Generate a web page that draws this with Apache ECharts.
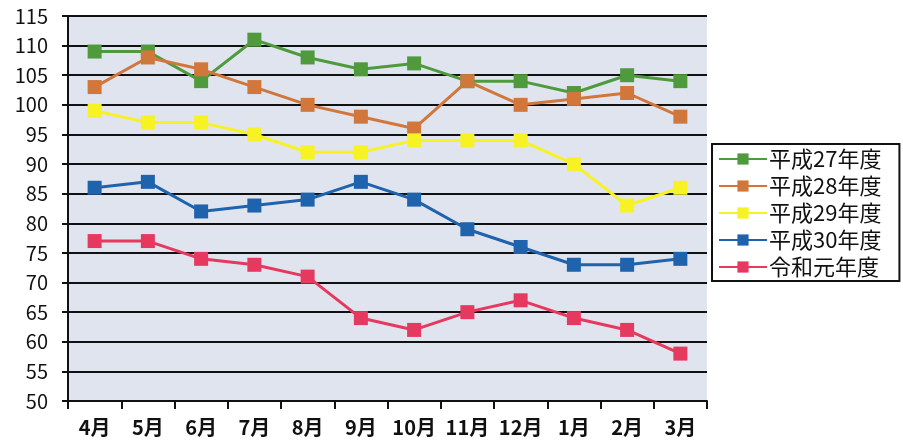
<!DOCTYPE html>
<html>
<head>
<meta charset="utf-8">
<script src="https://cdn.jsdelivr.net/npm/echarts@6/dist/echarts.min.js"></script>
<style>
  html, body { margin: 0; padding: 0; background: #ffffff; }
  #chart { width: 903px; height: 443px; }
</style>
</head>
<body>
<div id="chart"></div>
<script>
// Months of the fiscal year (April to March)
const months = ['4月', '5月', '6月', '7月', '8月', '9月', '10月', '11月', '12月', '1月', '2月', '3月'];

// Monthly values per fiscal year
const h27 = [109, 109, 104, 111, 108, 106, 107, 104, 104, 102, 105, 104];
const h28 = [103, 108, 106, 103, 100, 98, 96, 104, 100, 101, 102, 98];
const h29 = [99, 97, 97, 95, 92, 92, 94, 94, 94, 90, 83, 86];
const h30 = [86, 87, 82, 83, 84, 87, 84, 79, 76, 73, 73, 74];
const r1  = [77, 77, 74, 73, 71, 64, 62, 65, 67, 64, 62, 58];

const seriesNames = ['平成27年度', '平成28年度', '平成29年度', '平成30年度', '令和元年度'];
const seriesData = [h27, h28, h29, h30, r1];
const seriesColors = ['#4f9a3c', '#d2773c', '#f7f224', '#1f63ad', '#e6395f'];

// Y axis range
const yMin = 50, yMax = 115, yStep = 5;

const font = '"Noto Sans CJK JP", "Noto Sans", sans-serif';

const chart = echarts.init(document.getElementById('chart'), null, { renderer: 'canvas' });

chart.setOption({
  animation: false,
  backgroundColor: '#ffffff',
  textStyle: { fontFamily: font },
  grid: {
    left: 68, right: 196, top: 16, bottom: 42,
    show: true, backgroundColor: '#e0e4ef', borderWidth: 0
  },
  legend: {
    orient: 'vertical',
    left: 712, top: 144,
    backgroundColor: '#ffffff',
    borderColor: '#111111', borderWidth: 2,
    padding: [4, 18, 3, 6],
    itemWidth: 48, itemHeight: 14, itemGap: 5,
    textStyle: { fontSize: 22, color: '#111111', fontFamily: font, lineHeight: 22, padding: [0, 0, 0, -3] },
    data: seriesNames
  },
  xAxis: {
    type: 'category',
    data: months,
    boundaryGap: true,
    axisLine: { lineStyle: { color: '#111111', width: 2 } },
    axisTick: { show: true, length: 8, lineStyle: { color: '#111111', width: 2 } },
    axisLabel: { color: '#111111', fontSize: 20, fontWeight: 'bold', margin: 16, interval: 0 },
    splitLine: { show: false }
  },
  yAxis: {
    type: 'value',
    min: yMin, max: yMax, interval: yStep,
    axisLine: { show: true, lineStyle: { color: '#111111', width: 2 } },
    axisTick: { show: true, length: 6, lineStyle: { color: '#111111', width: 2 } },
    axisLabel: { color: '#111111', fontSize: 20, margin: 20 },
    splitLine: { show: true, lineStyle: { color: '#111111', width: 2 } }
  },
  series: seriesNames.map((name, i) => ({
    name: name,
    type: 'line',
    data: seriesData[i],
    symbol: 'rect',
    symbolSize: 14,
    lineStyle: { color: seriesColors[i], width: 3 },
    itemStyle: { color: seriesColors[i] }
  }))
});
</script>
</body>
</html>
